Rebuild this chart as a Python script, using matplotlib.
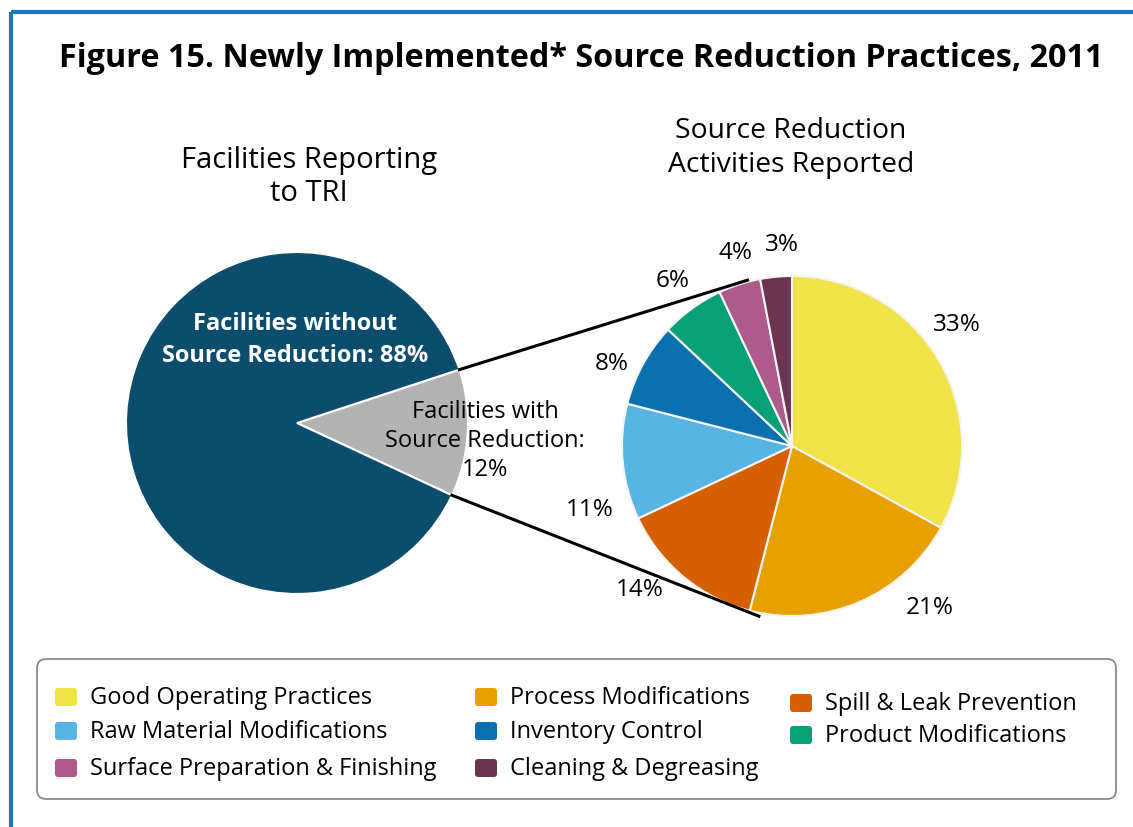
import numpy as np
import matplotlib.pyplot as plt
from matplotlib.patches import FancyBboxPatch

plt.rcParams['font.family'] = ['Open Sans', 'DejaVu Sans']

# left pie: all facilities reporting to TRI
tri_labels = ['Facilities with\nSource Reduction:\n12%', 'Facilities without\nSource Reduction: 88%']
tri_values = [12, 88]
tri_colors = ['#b3b3b3', '#0c4d6e']

# right pie: source reduction activities
activities = ['Good Operating Practices', 'Process Modifications', 'Spill & Leak Prevention',
              'Raw Material Modifications', 'Inventory Control', 'Product Modifications',
              'Surface Preparation & Finishing', 'Cleaning & Degreasing']
activity_pct = [33, 21, 14, 11, 8, 6, 4, 3]
activity_colors = ['#efe347', '#e8a000', '#d65f00', '#58b4e2', '#0b70b0',
                   '#07a077', '#ad5a8c', '#6c3352']

W, H = 1133, 828
fig = plt.figure(figsize=(W / 100, H / 100), dpi=100)
ax = fig.add_axes([0, 0, 1, 1])

# blue frame (top and left only)
ax.plot([11, W], [H - 13, H - 13], color='#1a75bc', lw=3, solid_capstyle='butt')
ax.plot([11, 11], [0, H - 13], color='#1a75bc', lw=3, solid_capstyle='butt')

ax.text(581, H - 58, 'Figure 15. Newly Implemented* Source Reduction Practices, 2011',
        ha='center', va='center', fontsize=23.3, fontweight='bold')

ax.text(309, H - 177, 'Facilities Reporting\nto TRI', ha='center', va='center',
        fontsize=21, linespacing=1.2)
ax.text(791, H - 148, 'Source Reduction\nActivities Reported', ha='center', va='center',
        fontsize=20.3, linespacing=1.25)

# left pie
lc, lr = (297, H - 424), 171
start = -25
ax.pie(tri_values, colors=tri_colors, center=lc, radius=lr, startangle=start,
       counterclock=True, frame=True,
       wedgeprops=dict(edgecolor='white', linewidth=1.5))
ax.text(295, H - 340, tri_labels[1], ha='center', va='center', color='white',
        fontsize=17, fontweight='bold', linespacing=1.5)
ax.text(485, H - 441, tri_labels[0], ha='center', va='center', color='black',
        fontsize=17, linespacing=1.3)

# right pie
rc, rr = (792, H - 447), 170
ax.pie(activity_pct, colors=activity_colors, center=rc, radius=rr, startangle=90,
       counterclock=False, frame=True,
       wedgeprops=dict(edgecolor='#f4f4f4', linewidth=1.5))
ax.set_xlim(0, W)
ax.set_ylim(0, H)
ax.set_aspect('equal')
ax.axis('off')

# percentage labels (pixel positions of each label)
label_pos = [(957, 325), (930, 608), (640, 590), (590, 510),
             (612, 364), (673, 281), (735, 253), (782, 245)]
for pct, (x, y) in zip(activity_pct, label_pos):
    ax.text(x, H - y, f'{pct}%', ha='center', va='center', fontsize=17.5)

# connector lines from the grey wedge to the right pie
a_top = np.radians(start + 360 * tri_values[0] / 100)
a_bot = np.radians(start)
r_top, r_bot = np.radians(105), np.radians(259)
ax.plot([lc[0] + lr * np.cos(a_top), rc[0] + rr * 1.01 * np.cos(r_top)],
        [lc[1] + lr * np.sin(a_top), rc[1] + rr * 1.01 * np.sin(r_top)],
        color='black', lw=2.2)
ax.plot([lc[0] + lr * np.cos(a_bot), rc[0] + rr * 1.02 * np.cos(r_bot)],
        [lc[1] + lr * np.sin(a_bot), rc[1] + rr * 1.02 * np.sin(r_bot)],
        color='black', lw=2.2)

# legend box, drawn by hand to keep the column layout of the original
ax.add_patch(FancyBboxPatch((37, H - 800), 1079, 140, boxstyle='round,pad=0,rounding_size=9',
                            facecolor='white', edgecolor='#8a8a8a', lw=1.3))
col_x = [55, 475, 790]
row_y = [[698, 732, 769], [698, 732, 769], [704, 736]]
order = [[0, 3, 6], [1, 4, 7], [2, 5]]
for cx, rows, idx in zip(col_x, row_y, order):
    for ry, i in zip(rows, idx):
        ax.add_patch(FancyBboxPatch((cx, H - ry - 9), 22, 18,
                                    boxstyle='round,pad=0,rounding_size=3',
                                    facecolor=activity_colors[i], edgecolor='none'))
        ax.text(cx + 35, H - ry, activities[i], ha='left', va='center', fontsize=17)

fig.savefig('out.png', dpi=100, facecolor='white')
